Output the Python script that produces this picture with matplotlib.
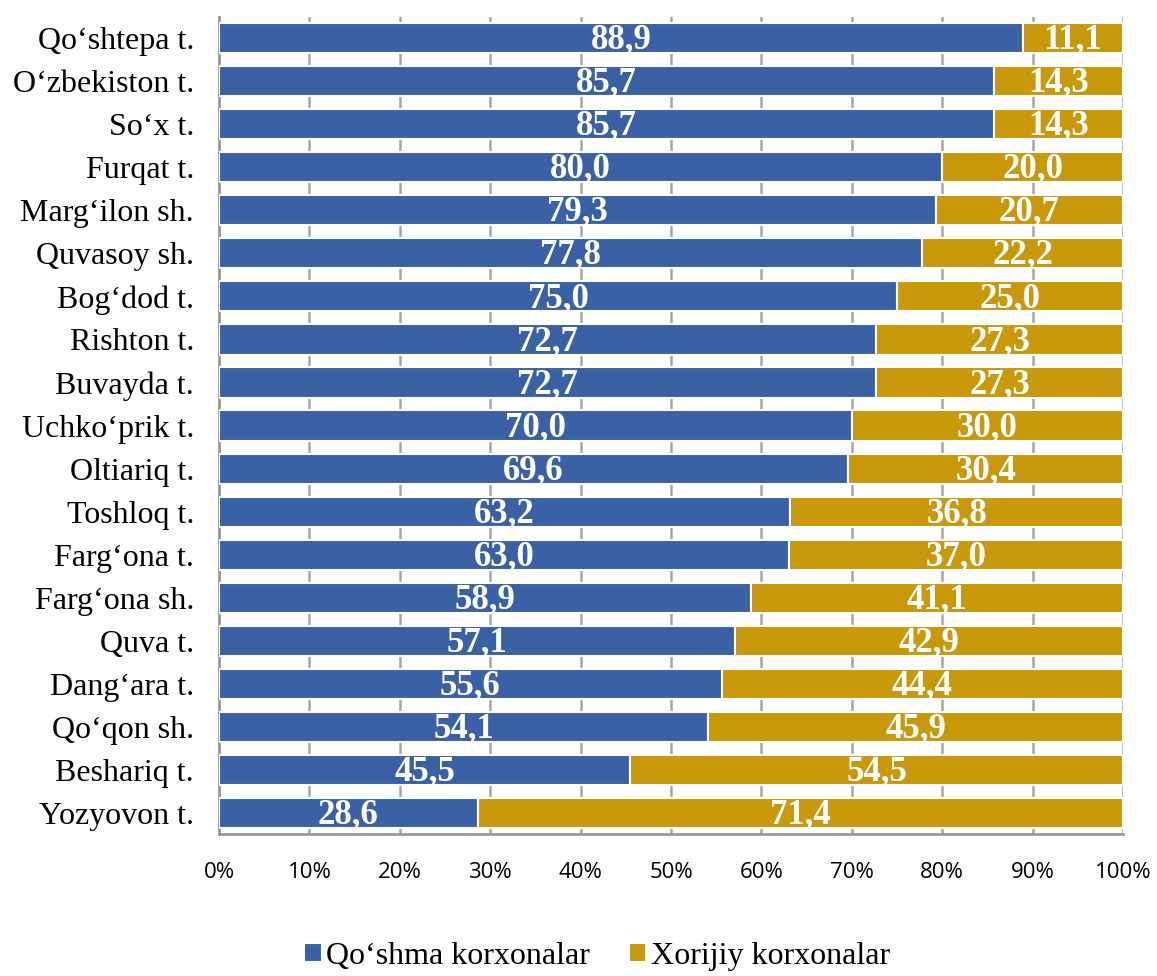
import matplotlib.pyplot as plt
import numpy as np

regions = ["Qo‘shtepa t.", "O‘zbekiston t.", "So‘x t.", "Furqat t.", "Marg‘ilon sh.",
           "Quvasoy sh.", "Bog‘dod t.", "Rishton t.", "Buvayda t.", "Uchko‘prik t.",
           "Oltiariq t.", "Toshloq t.", "Farg‘ona t.", "Farg‘ona sh.", "Quva t.",
           "Dang‘ara t.", "Qo‘qon sh.", "Beshariq t.", "Yozyovon t."]
qoshma = [88.9, 85.7, 85.7, 80.0, 79.3, 77.8, 75.0, 72.7, 72.7, 70.0,
          69.6, 63.2, 63.0, 58.9, 57.1, 55.6, 54.1, 45.5, 28.6]
xorijiy = [11.1, 14.3, 14.3, 20.0, 20.7, 22.2, 25.0, 27.3, 27.3, 30.0,
           30.4, 36.8, 37.0, 41.1, 42.9, 44.4, 45.9, 54.5, 71.4]
xticks = [0, 10, 20, 30, 40, 50, 60, 70, 80, 90, 100]

blue = "#3A61A5"
gold = "#C9980B"

fig = plt.figure(figsize=(11.57, 9.76), dpi=100)
ax = fig.add_axes([0.1893, 0.145, 0.7813, 0.838])

y = np.arange(len(regions))
b1 = ax.barh(y, qoshma, height=0.7, color=blue, edgecolor="white", linewidth=1.5,
             label="Qo‘shma korxonalar", zorder=3)
b2 = ax.barh(y, xorijiy, left=qoshma, height=0.7, color=gold, edgecolor="white",
             linewidth=1.5, label="Xorijiy korxonalar", zorder=3)

# value labels in the middle of each segment
for i in range(len(regions)):
    ax.text(qoshma[i] / 2, y[i] + 0.04, ("%.1f" % qoshma[i]).replace(".", ","),
            ha="center", va="center", color="white", fontsize=25, fontweight="bold",
            family="Liberation Serif", zorder=4)
    ax.text(qoshma[i] + xorijiy[i] / 2, y[i] + 0.04, ("%.1f" % xorijiy[i]).replace(".", ","),
            ha="center", va="center", color="white", fontsize=25, fontweight="bold",
            family="Liberation Serif", zorder=4)

ax.set_xlim(0, 100)
ax.set_ylim(len(regions) - 0.5, -0.5)
ax.set_xticks(xticks)
ax.set_xticklabels(["%d%%" % t for t in xticks], fontsize=16, family="Open Sans")
ax.set_yticks(y)
ax.set_yticklabels(regions, fontsize=23, family="Liberation Serif")
ax.tick_params(axis="y", length=0, pad=18)
ax.tick_params(axis="x", length=0, pad=20)

ax.grid(axis="x", color="#A6A6A6", linewidth=1.8, zorder=1)
for side in ["top", "right"]:
    ax.spines[side].set_visible(False)
for side in ["left", "bottom"]:
    ax.spines[side].set_color("#9A9A9A")
    ax.spines[side].set_linewidth(2)

fig.legend(handles=[b1, b2], loc="center", bbox_to_anchor=(0.516, 0.02), ncol=2,
           frameon=False, handlelength=0.55, handleheight=0.55, handletextpad=0.15,
           columnspacing=1.2, prop={"family": "Liberation Serif", "size": 23})

fig.savefig("out.png", dpi=100)
